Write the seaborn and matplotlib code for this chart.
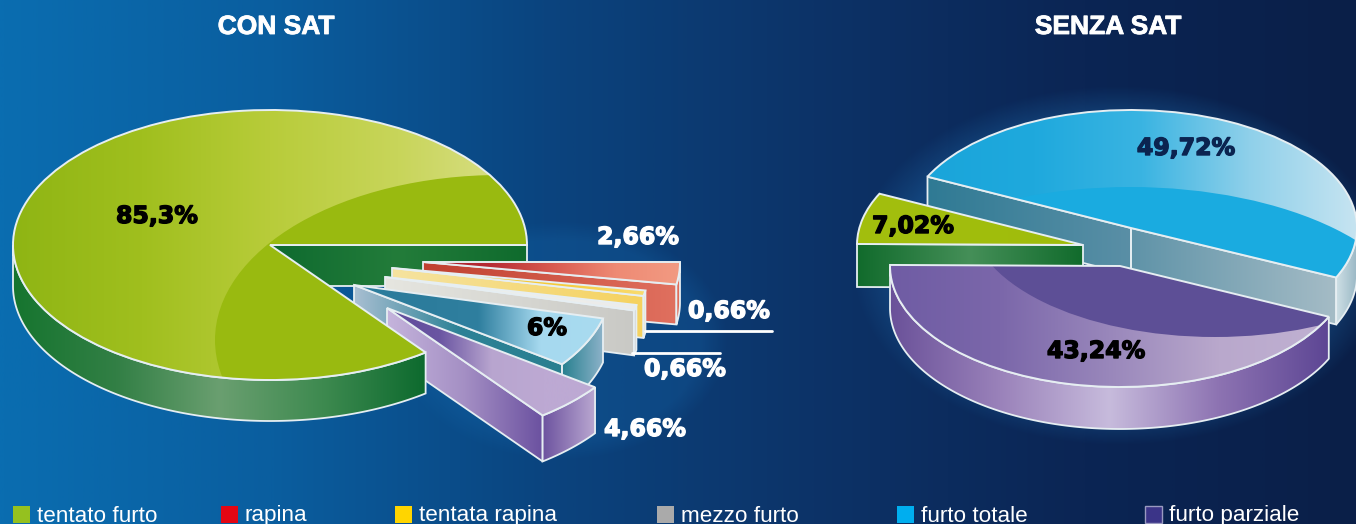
import numpy as np
import matplotlib
matplotlib.use("Agg")
import matplotlib.pyplot as plt
import matplotlib.patheffects as pe
from matplotlib.patches import Ellipse, PathPatch, Polygon, Rectangle
from matplotlib.transforms import Affine2D
import seaborn as sns

# data
con_labels = ["tentato furto", "furto parziale", "furto totale", "mezzo furto", "tentata rapina", "rapina"]
con_values = [85.3, 4.66, 6, 0.66, 0.66, 2.66]
senza_labels = ["furto totale", "tentato furto", "furto parziale"]
senza_values = [49.72, 7.02, 43.24]
legend_names = ["tentato furto", "rapina", "tentata rapina", "mezzo furto", "furto totale", "furto parziale"]
legend_colors = ["#95c11f", "#e30613", "#ffd500", "#aaaaaa", "#00aeef", "#3b3488"]

W, H = 1356, 524
LINE = "#e6eef2"

sns.set_theme(style="white")
plt.rcParams["font.family"] = ["Liberation Sans", "DejaVu Sans"]

fig = plt.figure(figsize=(W / 100, H / 100), dpi=100)
ax = fig.add_axes([0, 0, 1, 1])


def grad(cols, x0, x1, clip, z):
    cmap = sns.blend_palette(cols, as_cmap=True)
    g = np.linspace(0, 1, 256)[None, :]
    im = ax.imshow(g, extent=(x0, x1, H, 0), cmap=cmap, aspect="auto", zorder=z, interpolation="bilinear")
    im.set_clip_path(clip)


def wall(top, depth, cols, z):
    low = top[::-1] + [0, depth]
    poly = Polygon(np.vstack([top, low]), closed=True, fc="none", ec=LINE, lw=1.3, zorder=z + 0.05)
    ax.add_patch(poly)
    grad(cols, top[:, 0].min(), top[:, 0].max(), poly, z)


def draw_slice(w, tip, rx, ry, depth, z, face, arc_cols=None, rad_cols=None, rad_cols2=None, over=None, rad_z=None):
    w.set_transform(Affine2D().scale(rx, -ry).translate(*tip) + ax.transData)
    w.set_zorder(z + 0.3)
    w.set_edgecolor("none")
    t1, t2 = w.theta1, w.theta2

    def pts(t):
        t = np.radians(t)
        return np.column_stack([tip[0] + rx * np.cos(t), tip[1] - ry * np.sin(t)])

    # the radial cuts only show when they face the viewer
    rz = z if rad_z is None else rad_z
    if rad_cols is not None:
        t = t1 if np.cos(np.radians(t1)) > 0 else t2
        wall(np.vstack([[tip], pts([t])]), depth, rad_cols, rz)
    if rad_cols2 is not None:
        wall(np.vstack([pts([t2]), [tip]]), depth, rad_cols2, rz)
    if arc_cols is not None:
        ts = np.linspace(t1, t2, 400)
        ts = ts[np.sin(np.radians(ts)) < -1e-6]
        wall(pts(ts), depth, arc_cols, z + 0.1)

    top = pts(np.linspace(t1, t2, 300))
    if t2 - t1 < 180:
        x0, x1 = min(tip[0], top[:, 0].min()), max(tip[0], top[:, 0].max())
    else:
        x0, x1 = tip[0] - rx, tip[0] + rx
    grad(face, x0, x1, w, z + 0.4)
    if over is not None:
        e = Ellipse(over[0], over[1], over[2], fc=over[3], ec="none", zorder=z + 0.5)
        ax.add_patch(e)
        e.set_clip_path(w)
    ax.add_patch(PathPatch(w.get_path(), transform=w.get_transform(), fc="none", ec=LINE, lw=1.4, zorder=z + 0.6))


def glow(cx, cy, rx, ry, color, alpha):
    yy, xx = np.mgrid[0:H, 0:W]
    d = np.sqrt(((xx - cx) / rx) ** 2 + ((yy - cy) / ry) ** 2)
    img = np.zeros((H, W, 4))
    img[..., :3] = matplotlib.colors.to_rgb(color)
    img[..., 3] = alpha * np.clip(1.2 - d, 0, 0.2) / 0.2
    ax.imshow(img, extent=(0, W, H, 0), aspect="auto", zorder=0.5, interpolation="bilinear")


# background
bg = sns.blend_palette(["#0a6db0", "#0a5e9f", "#0b447f", "#0d3368", "#0b2554", "#0a1f48"], as_cmap=True)
ax.imshow(np.linspace(0, 1, 512)[None, :], extent=(0, W, H, 0), cmap=bg, aspect="auto", zorder=0)
glow(1118, 265, 222, 150, "#1f6fb0", 0.35)
glow(560, 340, 140, 100, "#1465a8", 0.3)

# CON SAT
wedges, _ = ax.pie(con_values, colors=[legend_colors[legend_names.index(n)] for n in con_labels], startangle=0)
parts = dict(zip(con_labels, wedges))
draw_slice(parts["rapina"], (423, 262), 257, 135, 40, 5,
           ["#a81e2a", "#b52a33", "#d8594f", "#ee8a74", "#f29a82"],
           arc_cols=["#d9604f", "#e5745f"], rad_cols=["#c04030", "#e0705f"])
draw_slice(parts["tentata rapina"], (392, 268), 257, 135, 42, 6,
           ["#fbeec0", "#f3c52c", "#f6cb3c", "#f9dc70"],
           arc_cols=["#f6d25f", "#f9dd7d"], rad_cols=["#f5e3a0", "#f5d25f"])
draw_slice(parts["mezzo furto"], (385, 277), 257, 135, 45, 7,
           ["#f1f1ea", "#ececea"],
           arc_cols=["#c5c5c2", "#d6d6d2"], rad_cols=["#e6e6e0", "#c9c9c5"])
draw_slice(parts["furto totale"], (354, 285), 257, 135, 44, 8,
           ["#2c7c9c", "#2c7c9c", "#2f7f9f", "#a6d9ef", "#a9dbf0"],
           arc_cols=["#27808f", "#8cb2c9"], rad_cols=["#a9bfd2", "#2d8296", "#2a7f90"])
draw_slice(parts["furto parziale"], (387, 308), 257, 135, 46, 9,
           ["#5d4a9a", "#6a55a2", "#b8a5cf", "#bda9d3", "#bda9d3"],
           arc_cols=["#6d539f", "#bba9d2"], rad_cols=["#c5b4dc", "#a48fc4", "#6b51a0"])
draw_slice(parts["tentato furto"], (270, 245), 257, 135, 41, 20,
           ["#8fb514", "#a0bf1e", "#b8cc3a", "#c8d55a", "#dbe08c"],
           arc_cols=["#16752f", "#327f45", "#6a9f70", "#3e8a50", "#0d6a2e"],
           rad_cols=["#0e6a2f", "#237c3a", "#0f6b2d"], rad_z=2,
           over=((500, 340), 570, 330, "#99ba10"))

# SENZA SAT
wedges2, _ = ax.pie(senza_values, colors=[legend_colors[legend_names.index(n)] for n in senza_labels], startangle=335.2)
parts2 = dict(zip(senza_labels, wedges2))
draw_slice(parts2["furto totale"], (1131, 228), 226, 118, 47, 25,
           ["#1aa5da", "#1fa9dd", "#3ab4e2", "#8fd0ea", "#c6e4f1"],
           arc_cols=["#cfe0e6", "#9ab8c5"], rad_cols=["#5f93a8", "#a5bcc6"], rad_cols2=["#2f7a94", "#5a8fa6"],
           over=((1130, 330), 580, 286, "#1aabe0"))
draw_slice(parts2["tentato furto"], (1083, 245), 226, 118, 43, 26,
           ["#a3bf0e", "#9fbc0c"],
           rad_cols=["#116b2c", "#458f58", "#116b2c"])
draw_slice(parts2["furto parziale"], (1120, 266), 230, 121, 42, 27,
           ["#6f5ca4", "#7b67aa", "#9987bb", "#b9a8cc", "#c0b1d2"],
           arc_cols=["#6a5199", "#9a82ba", "#c7bbdc", "#8d73b2", "#5d4694"],
           over=((1215, 215), 490, 244, "#5d4f96"))

ax.plot([645, 772], [331, 331], color="white", lw=2, zorder=40)
ax.plot([632, 720], [353, 353], color="white", lw=2, zorder=40)


def pct(v):
    return f"{v:g}".replace(".", ",") + "%"


def value_text(p, v, c):
    ax.text(p[0], p[1], pct(v), color=c, fontsize=17, fontweight="bold", family="DejaVu Sans",
            ha="center", va="center", zorder=41,
            path_effects=[pe.withStroke(linewidth=1.0, foreground=c)])


con_pos = [(157, 216), (645, 429), (547, 328), (685, 369), (729, 311), (638, 237)]
con_col = ["black", "white", "black", "white", "white", "white"]
for v, p, c in zip(con_values, con_pos, con_col):
    value_text(p, v, c)
senza_pos = [(1186, 148), (913, 226), (1096, 351)]
senza_col = ["#0b2450", "black", "black"]
for v, p, c in zip(senza_values, senza_pos, senza_col):
    value_text(p, v, c)

for x, title in zip([276, 1108], ["CON SAT", "SENZA SAT"]):
    ax.text(x, 27, title, color="white", fontsize=19, fontweight="bold", ha="center", va="center", zorder=41,
            path_effects=[pe.withStroke(linewidth=0.6, foreground="white")])

# legend, spaced unevenly like the original
legend_x = [13, 221, 395, 657, 897, 1145]
for x, name, col in zip(legend_x, legend_names, legend_colors):
    ax.add_patch(Rectangle((x, 506), 17, 17, fc=col, ec="#9a9ac0" if name == "furto parziale" else "none", lw=1, zorder=41))
    ax.text(x + 24, 516, name, color="white", fontsize=16.2, ha="left", va="center", zorder=41)

ax.set_xlim(0, W)
ax.set_ylim(H, 0)
ax.set_aspect("auto")
ax.axis("off")
fig.savefig("out.png", dpi=100)
